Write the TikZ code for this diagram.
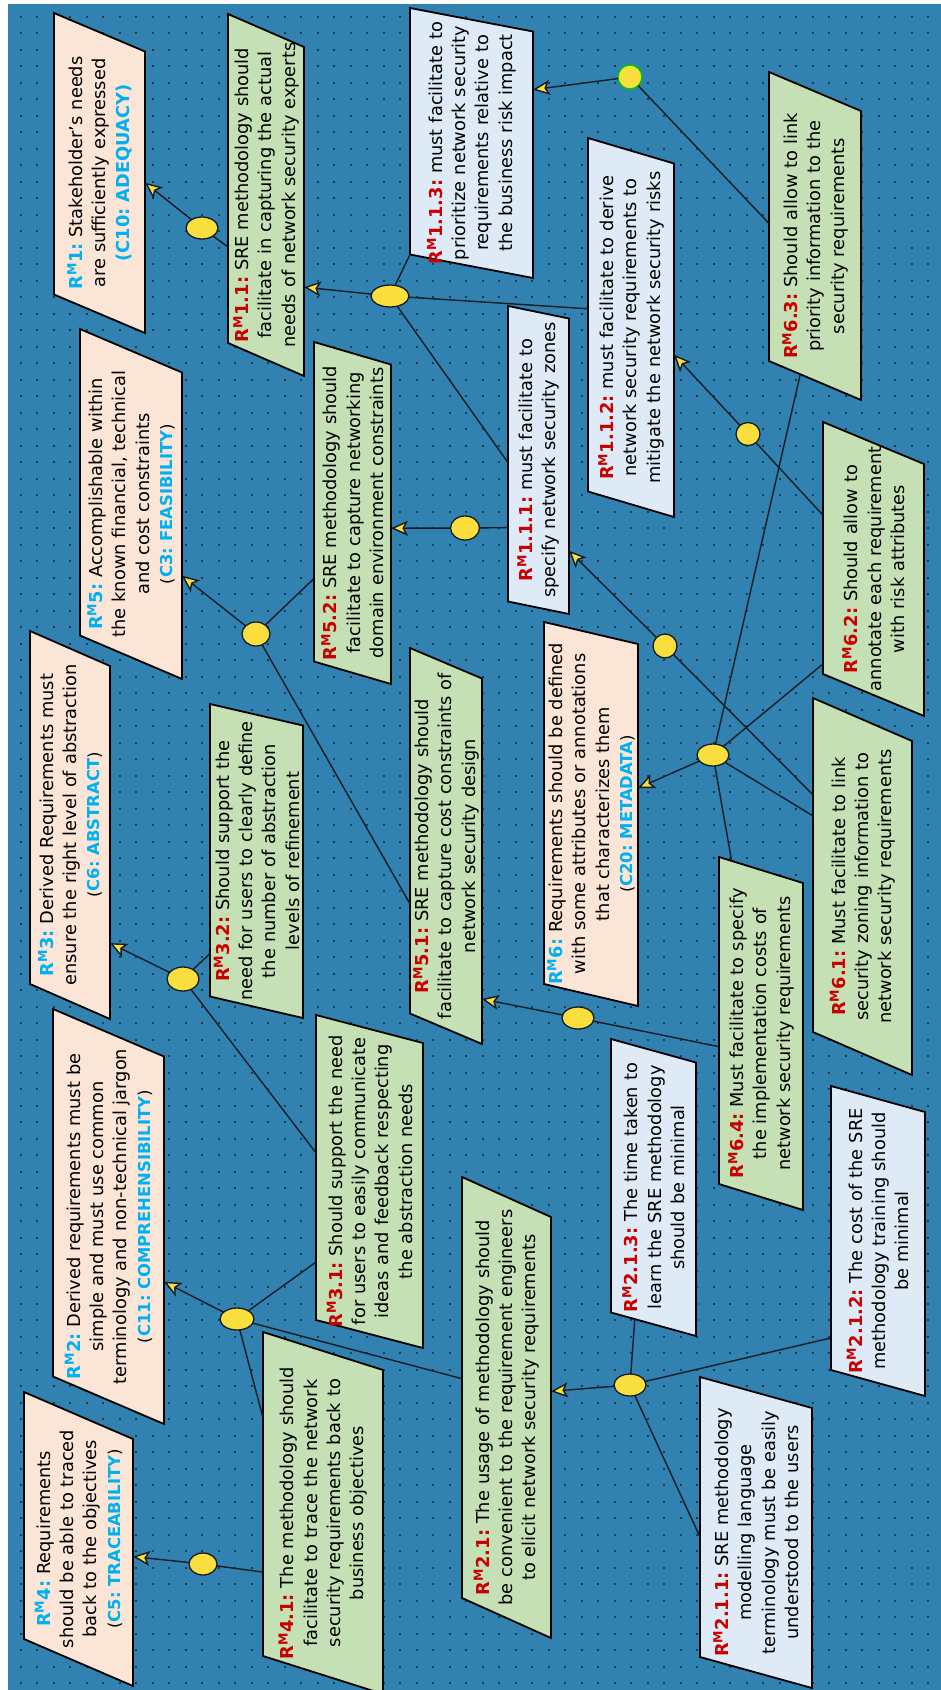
\documentclass[tikz,border=0pt]{standalone}
\usepackage{fontspec}
\setmainfont{DejaVu Sans}
\usetikzlibrary{shapes.geometric,arrows.meta,calc}

\definecolor{sea}{RGB}{49,130,176}
\definecolor{griddot}{RGB}{28,58,82}
\definecolor{goalfill}{RGB}{251,229,214}
\definecolor{subfill}{RGB}{197,224,180}
\definecolor{leaffill}{RGB}{222,235,247}
\definecolor{goalblue}{RGB}{0,176,240}
\definecolor{subred}{RGB}{200,0,0}
\definecolor{knotyellow}{RGB}{249,222,62}
\definecolor{knotgreen}{RGB}{0,200,0}
\definecolor{wire}{RGB}{20,28,38}

\pgfdeclarelayer{backdrop}
\pgfdeclarelayer{boxes}
\pgfsetlayers{backdrop,boxes,main}

\newcommand{\goalid}[1]{\textcolor{goalblue}{\textbf{R\textsuperscript{M}#1:}}}
\newcommand{\subid}[1]{\textcolor{subred}{\textbf{R\textsuperscript{M}#1:}}}
\newcommand{\critn}[1]{{\fontsize{16.4}{20}\selectfont(\textcolor{goalblue}{\textbf{#1}})}}
% slanted box behind a requirement node: name, slant, fill
\newcommand{\reqshape}[3]{%
  \coordinate (#1-tr) at (#1.north east);
  \coordinate (#1-tl) at ($(#1.north west)!#2!(#1.north east)$);
  \coordinate (#1-br) at ($(#1.south east)!#2!(#1.south west)$);
  \coordinate (#1-bl) at (#1.south west);
  \begin{pgfonlayer}{boxes}
    \filldraw[fill=#3, draw=black, line width=1.8pt] (#1-tl) -- (#1-tr) -- (#1-br) -- (#1-bl) -- cycle;
  \end{pgfonlayer}}

\tikzset{
  req/.style={rectangle, rotate=90, inner sep=0pt, outer sep=0pt, align=center,
    font=\fontsize{17.8}{23.3}\selectfont\frenchspacing},
  junction/.style={ellipse, draw=wire, line width=1.3pt, fill=knotyellow, inner sep=0pt,
    outer sep=0pt, minimum width=32pt, minimum height=22pt},
  link/.style={draw=wire, line width=1.4pt},
  refines/.style={link, -{Stealth[length=17pt, width=15pt, inset=4pt, fill=knotyellow]}}
}

\begin{document}
\frenchspacing
\begin{tikzpicture}[x=1pt, y=-1pt]
\useasboundingbox (0,0) rectangle (941,1690);
\begin{pgfonlayer}{backdrop}
\fill[white] (0,0) rectangle (941,1690);
\fill[sea] (8,4) rectangle (941,1690);
\foreach \r in {0,...,102}
  \draw[griddot, line width=1.8pt, dash pattern=on 1.8pt off 14.7pt] (19.8,{16.7+16.5*\r}) -- (941,{16.7+16.5*\r});
\end{pgfonlayer}

% objectives
\node[req, minimum width=320pt, text width=310pt, minimum height=91pt] (m1) at (99.5,173)
  {\goalid{1} Stakeholder’s needs\\are sufficiently expressed\\\textcolor{goalblue}{\textbf{(C10: ADEQUACY)}}};
\node[req, minimum width=350pt, text width=340pt, minimum height=102pt] (m5) at (131,504)
  {\goalid{5} Accomplishable within\\the known financial, technical\\and cost constraints\\\critn{C3: FEASIBILITY}};
\node[req, minimum width=388pt, text width=378pt, minimum height=80pt] (m3) at (70,825)
  {\goalid{3} Derived Requirements must\\ensure the right level of abstraction\\\critn{C6: ABSTRACT}};
\node[req, minimum width=415pt, text width=405pt, minimum height=111pt] (m2) at (108.5,1216.5)
  {\goalid{2} Derived requirements must be\\simple and must use common\\terminology and non-technical jargon\\\critn{C11: COMPREHENSIBILITY}};
\node[req, minimum width=294pt, text width=284pt, minimum height=109pt] (m4) at (78.5,1539)
  {\goalid{4} Requirements\\should be able to traced\\back to the objectives\\\critn{C5: TRACEABILITY}};
\node[req, minimum width=384pt, text width=374pt, minimum height=94pt] (m6) at (591,814)
  {\goalid{6} Requirements should be defined\\with some attributes or annotations\\that characterizes them\\\critn{C20: METADATA}};
\reqshape{m1}{38.5pt}{goalfill}
\reqshape{m5}{43.5pt}{goalfill}
\reqshape{m3}{35pt}{goalfill}
\reqshape{m2}{47.5pt}{goalfill}
\reqshape{m4}{47pt}{goalfill}
\reqshape{m6}{22pt}{goalfill}

% methodology requirements
\node[req, minimum width=362pt, text width=352pt, minimum height=76pt] (m11) at (266,195)
  {\subid{1.1} SRE methodology should\\facilitate in capturing the actual\\needs of network security experts};
\node[req, minimum width=342pt, text width=332pt, minimum height=77pt] (m52) at (352.5,513)
  {\subid{5.2} SRE methodology should\\facilitate to capture networking\\domain environment constraints};
\node[req, minimum width=396pt, text width=386pt, minimum height=72pt] (m51) at (446,846)
  {\subid{5.1} SRE methodology should\\facilitate to capture cost constraints of\\network security design};
\node[req, minimum width=314pt, text width=304pt, minimum height=93pt] (m32) at (256.5,861)
  {\subid{3.2} Should support the\\need for users to clearly define\\the number of abstraction\\levels of refinement};
\node[req, minimum width=333pt, text width=323pt, minimum height=107pt] (m31) at (369.5,1181.5)
  {\subid{3.1} Should support the need\\for users to easily communicate\\ideas and feedback respecting\\the abstraction needs};
\node[req, minimum width=362pt, text width=352pt, minimum height=120pt] (m41) at (323,1513)
  {\subid{4.1} The methodology should\\facilitate to trace the network\\security requirements back to\\business objectives};
\node[req, minimum width=461pt, text width=451pt, minimum height=89pt] (m21) at (506.5,1407.5)
  {\subid{2.1} The usage of methodology should\\be convenient to the requirement engineers\\to elicit network security requirements};
\node[req, minimum width=328pt, text width=318pt, minimum height=92pt] (m63) at (815,236)
  {\subid{6.3} Should allow to link\\priority information to the\\security requirements};
\node[req, minimum width=294pt, text width=284pt, minimum height=101pt] (m62) at (873.5,569)
  {\subid{6.2} Should allow to\\annotate each requirement\\with risk attributes};
\node[req, minimum width=377pt, text width=367pt, minimum height=99pt] (m61) at (862.5,886.5)
  {\subid{6.1} Must facilitate to link\\security zoning information to\\network security requirements};
\node[req, minimum width=353pt, text width=343pt, minimum height=84pt] (m64) at (761,1033.5)
  {\subid{6.4} Must facilitate to specify\\the implementation costs of\\network security requirements};
\reqshape{m11}{33pt}{subfill}
\reqshape{m52}{22.5pt}{subfill}
\reqshape{m51}{30.5pt}{subfill}
\reqshape{m32}{21.5pt}{subfill}
\reqshape{m31}{28pt}{subfill}
\reqshape{m41}{38pt}{subfill}
\reqshape{m21}{40pt}{subfill}
\reqshape{m63}{39pt}{subfill}
\reqshape{m62}{42pt}{subfill}
\reqshape{m61}{43pt}{subfill}
\reqshape{m64}{26pt}{subfill}

% refinements
\node[req, minimum width=270pt, text width=260pt, minimum height=123pt] (m113) at (471.5,143)
  {\subid{1.1.3} must facilitate to\\prioritize network security\\requirements relative to\\the business risk impact};
\node[req, minimum width=379pt, text width=369pt, minimum height=86pt] (m112) at (631,327.5)
  {\subid{1.1.2} must facilitate to derive\\network security requirements to\\mitigate the network security risks};
\node[req, minimum width=308pt, text width=298pt, minimum height=61pt] (m111) at (538.5,460)
  {\subid{1.1.1} must facilitate to\\specify network security zones};
\node[req, minimum width=297pt, text width=287pt, minimum height=85pt] (m213) at (653.5,1187.5)
  {\subid{2.1.3} The time taken to\\learn the SRE methodology\\should be minimal};
\node[req, minimum width=310pt, text width=300pt, minimum height=94pt] (m212) at (878,1241)
  {\subid{2.1.2} The cost of the SRE\\methodology training should\\be minimal};
\node[req, minimum width=311pt, text width=301pt, minimum height=112pt] (m211) at (756,1532.5)
  {\subid{2.1.1} SRE methodology\\modelling language\\terminology must be easily\\understood to the users};
\reqshape{m113}{23.5pt}{leaffill}
\reqshape{m112}{25.5pt}{leaffill}
\reqshape{m111}{12.5pt}{leaffill}
\reqshape{m213}{23.5pt}{leaffill}
\reqshape{m212}{26pt}{leaffill}
\reqshape{m211}{31pt}{leaffill}

% junctions
\node[junction] (j1) at (202,228) {};
\node[junction, minimum width=38pt] (j11) at (390,296) {};
\node[junction, draw=knotgreen, minimum width=24pt, minimum height=24pt] (jtop) at (630,77) {};
\node[junction, minimum width=24pt, minimum height=23pt] (js1) at (748,434) {};
\node[junction, minimum width=24pt, minimum height=24pt] (js2) at (665,646) {};
\node[junction, minimum width=28pt, minimum height=24pt] (j5) at (256,634) {};
\node[junction, minimum width=29pt, minimum height=24pt] (j52) at (465,528) {};
\node[junction, minimum height=24pt] (j3) at (183,979) {};
\node[junction] (j6) at (713,755) {};
\node[junction] (j6b) at (578,1018) {};
\node[junction, minimum width=34pt] (j2) at (237,1319) {};
\node[junction, minimum width=28pt] (j4) at (203,1564) {};
\node[junction] (j21) at (630,1385) {};

% R^M1
\draw[link] ($(m11-tr)!.708!(m11-tl)$) -- (j1);
\draw[refines] (j1) -- ($(m1-br)!.466!(m1-bl)$);
% R^M1.1
\draw[link] (m113-tl) -- (j11);
\draw[link] ($(m112-tr)!.483!(m112-tl)$) -- (j11);
\draw[link] ($(m111-tr)!.53!(m111-tl)$) -- (j11);
\draw[refines] (j11) -- ($(m11-br)!.73!(m11-bl)$);
% R^M1.1.x from R^M6.x
\draw[link] ($(m63-tr)!.524!(m63-tl)$) -- (jtop);
\draw[refines] (jtop) -- ($(m113-br)!.236!(m113-bl)$);
\draw[link] ($(m62-tr)!.37!(m62-tl)$) -- (js1);
\draw[refines] (js1) -- ($(m112-br)!.541!(m112-bl)$);
\draw[link] ($(m61-tr)!.29!(m61-tl)$) -- (js2);
\draw[refines] (js2) -- ($(m111-br)!.786!(m111-bl)$);
% R^M5
\draw[link] ($(m52-tr)!.74!(m52-tl)$) -- (j5);
\draw[link] ($(m51-tr)!.70!(m51-tl)$) -- (j5);
\draw[refines] (j5) -- ($(m5-br)!.663!(m5-bl)$);
\draw[link] ($(m111-tr)!.75!(m111-tl)$) -- (j52);
\draw[refines] (j52) -- ($(m52-br)!.5125!(m52-bl)$);
\draw[link] ($(m64-tr)!.58!(m64-tl)$) -- (j6b);
\draw[refines] (j6b) -- ($(m51-br)!.877!(m51-bl)$);
% R^M3
\draw[link] ($(m32-tr)!.853!(m32-tl)$) -- (j3);
\draw[link] ($(m31-tr)!.452!(m31-tl)$) -- (j3);
\draw[refines] (j3) -- ($(m3-br)!.785!(m3-bl)$);
% R^M2 and R^M4
\draw[link] ($(m31-tr)!.81!(m31-tl)$) -- (j2);
\draw[link] ($(m41-tr)!.265!(m41-tl)$) -- (j2);
\draw[link] ($(m21-tr)!.479!(m21-tl)$) -- (j2);
\draw[refines] (j2) -- ($(m2-br)!.613!(m2-bl)$);
\draw[link] ($(m41-tr)!.741!(m41-tl)$) -- (j4);
\draw[refines] (j4) -- ($(m4-br)!.476!(m4-bl)$);
% R^M2.1
\draw[link] ($(m213-tl)!.28!(m213-bl)$) -- (j21);
\draw[link] ($(m212-tr)!.887!(m212-tl)$) -- (j21);
\draw[link] ($(m211-tr)!.571!(m211-tl)$) -- (j21);
\draw[refines] (j21) -- ($(m21-br)!.414!(m21-bl)$);
% R^M6
\draw[link] ($(m62-tr)!.96!(m62-tl)$) -- (j6);
\draw[link] ($(m61-tr)!.353!(m61-tl)$) -- (j6);
\draw[link] ($(m64-tr)!.15!(m64-br)$) -- (j6);
\draw[link] ($(m63-tl)!.34!(m63-bl)$) -- (j6);
\draw[refines] (j6) -- ($(m6-br)!.398!(m6-bl)$);
\end{tikzpicture}
\end{document}
